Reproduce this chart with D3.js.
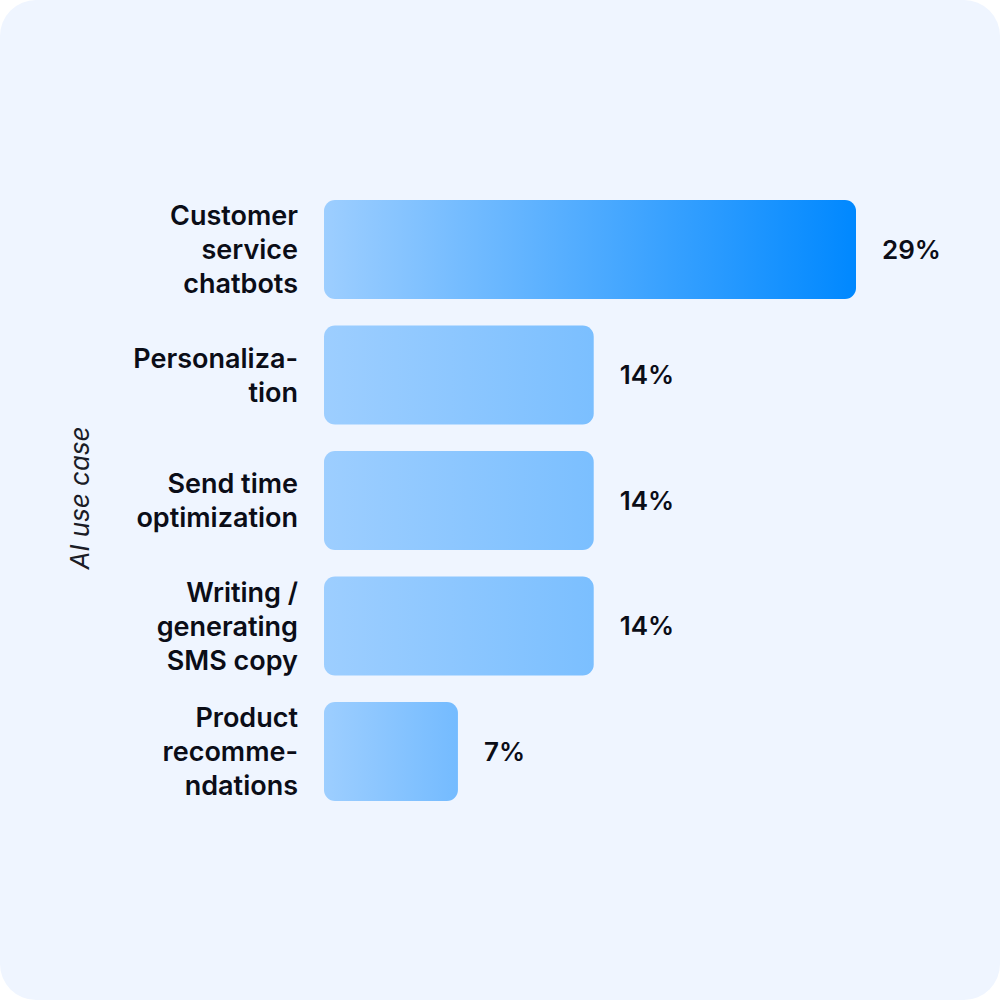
<!DOCTYPE html>
<html><head><meta charset="utf-8">
<script src="https://cdn.jsdelivr.net/npm/d3@7"></script>
<style>html,body{margin:0;padding:0;background:#fff;}svg{display:block;}</style>
</head><body>
<script>
const categories = [
  ["Customer","service","chatbots"],
  ["Personaliza-","tion"],
  ["Send time","optimization"],
  ["Writing /","generating","SMS copy"],
  ["Product","recomme-","ndations"]
];
const values = [28.6, 14.5, 14.5, 14.5, 7.2];
const valueLabels = ["29%","14%","14%","14%","7%"];
const endColors = ["#0088ff","#7bbfff","#7bbfff","#7bbfff","#74bbff"];
const axisTitle = "AI use case";

const W = 1000, H = 1000;
const svg = d3.select("body").append("svg").attr("width", W).attr("height", H);
svg.append("rect").attr("width", W).attr("height", H).attr("fill", "#ffffff");
svg.append("rect").attr("width", W).attr("height", H).attr("rx", 36).attr("fill", "#eff5ff");

const x = d3.scaleLinear().domain([0, 28.6]).range([324, 856]);
const y = d3.scaleBand().domain(d3.range(values.length)).range([200, 801]).paddingInner(0.211).paddingOuter(0);

const defs = svg.append("defs");
values.forEach((v, i) => {
  const g = defs.append("linearGradient").attr("id", "g" + i).attr("x1", "0%").attr("x2", "100%").attr("y1", "0%").attr("y2", "0%");
  g.append("stop").attr("offset", "0%").attr("stop-color", "#9dceff");
  g.append("stop").attr("offset", "100%").attr("stop-color", endColors[i]);
});

svg.selectAll("rect.bar").data(values).enter().append("rect")
  .attr("class", "bar")
  .attr("x", x(0))
  .attr("y", (d, i) => y(i))
  .attr("width", d => x(d) - x(0))
  .attr("height", y.bandwidth())
  .attr("rx", 11)
  .attr("fill", (d, i) => `url(#g${i})`);

const font = "Inter, 'Noto Sans', sans-serif";
const lh = 34;
categories.forEach((lines, i) => {
  const cy = y(i) + y.bandwidth() / 2;
  const t = svg.append("text")
    .attr("text-anchor", "end")
    .attr("font-family", font).attr("font-weight", 600).attr("font-size", 27)
    .attr("fill", "#0b0d17");
  lines.forEach((l, j) => {
    t.append("tspan").attr("x", 298)
      .attr("y", cy + (j - (lines.length - 1) / 2) * lh)
      .attr("dy", "0.36em").text(l);
  });
});

svg.selectAll("text.val").data(values).enter().append("text")
  .attr("class", "val")
  .attr("x", d => x(d) + 26)
  .attr("y", (d, i) => y(i) + y.bandwidth() / 2)
  .attr("dy", "0.36em")
  .attr("font-family", font).attr("font-weight", 600).attr("font-size", 26)
  .attr("fill", "#0b0d17")
  .text((d, i) => valueLabels[i]);

svg.append("text")
  .attr("transform", "translate(89,498) rotate(-90)")
  .attr("text-anchor", "middle")
  .attr("font-family", font).attr("font-style", "italic").attr("font-weight", 400).attr("font-size", 26)
  .attr("fill", "#1a1c26")
  .text(axisTitle);
</script>
</body></html>
